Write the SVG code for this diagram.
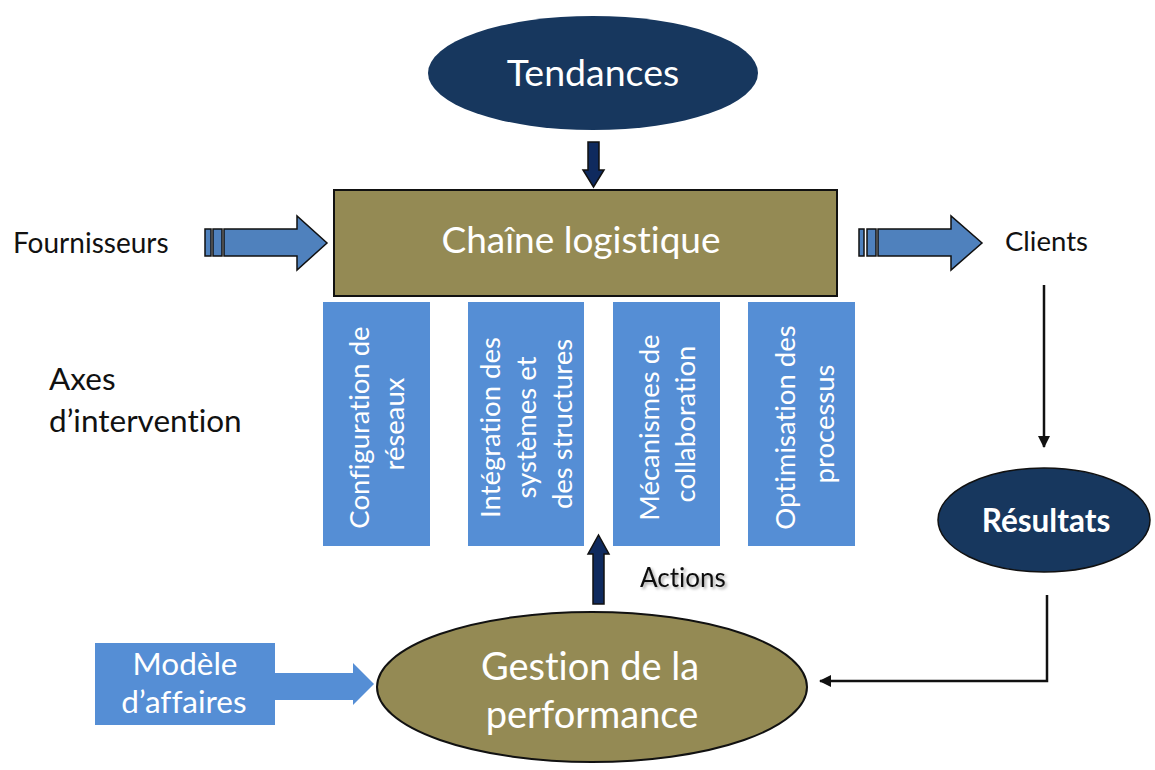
<svg xmlns="http://www.w3.org/2000/svg" width="1155" height="770" viewBox="0 0 1155 770">
  <style>
    text { font-family: Lato, "Open Sans", "Liberation Sans", sans-serif; font-variant-ligatures: none; }
    .white { fill: #ffffff; }
    .dark { fill: #111111; }
    .navy { fill: #17375e; }
    .olive { fill: #948a54; stroke: #111111; stroke-width: 2; }
    .axis { fill: #558ed5; }
    .block { fill: #4f81bd; stroke: #111111; stroke-width: 1.5; }
    .darrow { fill: #0f2a5e; stroke: #111111; stroke-width: 1.5; }
    .line { fill: none; stroke: #111111; stroke-width: 2.5; }
  </style>
  <defs>
    <marker id="tip" viewBox="0 0 12 12" refX="11" refY="6" markerWidth="12" markerHeight="12" orient="auto" markerUnits="userSpaceOnUse">
      <path d="M0,0 L12,6 L0,12 z" fill="#111111"/>
    </marker>
    <filter id="shadow" x="-10%" y="-20%" width="130%" height="150%">
      <feDropShadow dx="2" dy="2" stdDeviation="1.5" flood-color="#000000" flood-opacity="0.35"/>
    </filter>
  </defs>
  <rect width="1155" height="770" fill="#ffffff"/>

  <!-- block arrows and connectors -->
  <g id="connectors">
    <!-- Tendances down to the chain -->
    <polygon class="darrow" points="588,142 599,142 599,170 604,170 593.5,187 583,170 588,170"/>
    <!-- Actions up from performance management -->
    <polygon class="darrow" points="593,604 604,604 604,554 609,554 598.5,535 588,554 593,554"/>
    <!-- Fournisseurs into the chain -->
    <g>
      <rect class="block" x="205" y="229" width="6" height="27"/>
      <rect class="block" x="213" y="229" width="9" height="27"/>
      <polygon class="block" points="224,229 297,229 297,216 327,243 297,270 297,256 224,256"/>
    </g>
    <!-- chain out to Clients -->
    <g>
      <rect class="block" x="859" y="229" width="5" height="27"/>
      <rect class="block" x="867" y="229" width="9" height="27"/>
      <polygon class="block" points="878,229 951,229 951,216 982,243 951,270 951,256 878,256"/>
    </g>
    <!-- Modèle d'affaires into performance management -->
    <polygon class="axis" points="274,673 353,673 353,663 374,684 353,705 353,700 274,700"/>
    <!-- Clients to Résultats -->
    <line class="line" x1="1044" y1="285" x2="1044" y2="447" marker-end="url(#tip)"/>
    <!-- Résultats back to performance management -->
    <polyline class="line" points="1047,595 1047,681 820,681" marker-end="url(#tip)"/>
  </g>

  <g id="tendances">
    <ellipse class="navy" cx="593" cy="73" rx="165" ry="57"/>
    <text class="white" x="593" y="86" font-size="37.5" text-anchor="middle">Tendances</text>
  </g>

  <g id="chaine">
    <rect class="olive" x="334" y="190" width="503" height="106"/>
    <text class="white" x="581" y="253" font-size="37" text-anchor="middle">Chaîne logistique</text>
  </g>

  <g id="fournisseurs">
    <text class="dark" x="13" y="253" font-size="28">Fournisseurs</text>
  </g>

  <g id="clients">
    <text class="dark" x="1005" y="251" font-size="27.5">Clients</text>
  </g>

  <g id="axes">
    <text class="dark" x="49" y="390" font-size="31.5">Axes</text>
    <text class="dark" x="49" y="432" font-size="31.5">d’intervention</text>
  </g>

  <g id="axe-reseaux">
    <rect class="axis" x="323" y="302" width="107" height="244"/>
    <text class="white" font-size="27.5" text-anchor="middle" transform="translate(376.5,424) rotate(-90)">
      <tspan x="0" y="-8">Configuration de</tspan>
      <tspan x="0" y="27">réseaux</tspan>
    </text>
  </g>

  <g id="axe-integration">
    <rect class="axis" x="468" y="302" width="116" height="244"/>
    <text class="white" font-size="27.5" text-anchor="middle" transform="translate(526,424) rotate(-90)">
      <tspan x="0" y="-26">Intégration des</tspan>
      <tspan x="0" y="10">systèmes et</tspan>
      <tspan x="0" y="46">des structures</tspan>
    </text>
  </g>

  <g id="axe-collaboration">
    <rect class="axis" x="613" y="302" width="107" height="244"/>
    <text class="white" font-size="27.5" text-anchor="middle" transform="translate(666.5,424) rotate(-90)">
      <tspan x="0" y="-8">Mécanismes de</tspan>
      <tspan x="0" y="28">collaboration</tspan>
    </text>
  </g>

  <g id="axe-processus">
    <rect class="axis" x="748" y="302" width="107" height="244"/>
    <text class="white" font-size="27.5" text-anchor="middle" transform="translate(801.5,424) rotate(-90)">
      <tspan x="0" y="-7">Optimisation des</tspan>
      <tspan x="0" y="32">processus</tspan>
    </text>
  </g>

  <g id="actions">
    <text class="dark" x="640" y="587" font-size="26" filter="url(#shadow)">Actions</text>
  </g>

  <g id="resultats">
    <ellipse class="navy" cx="1044" cy="520" rx="106" ry="52" stroke="#111111" stroke-width="1.5"/>
    <text class="white" x="1046" y="532" font-size="31.5" font-weight="bold" text-anchor="middle">Résultats</text>
  </g>

  <g id="modele">
    <rect class="axis" x="95" y="643" width="180" height="82"/>
    <text class="white" x="185" y="675" font-size="31.5" text-anchor="middle">Modèle</text>
    <text class="white" x="184" y="713" font-size="31.5" text-anchor="middle">d’affaires</text>
  </g>

  <g id="performance">
    <ellipse class="olive" cx="592" cy="687" rx="215" ry="75"/>
    <text class="white" x="590" y="680" font-size="38" text-anchor="middle">Gestion de la</text>
    <text class="white" x="592" y="728" font-size="38" text-anchor="middle">performance</text>
  </g>
</svg>
